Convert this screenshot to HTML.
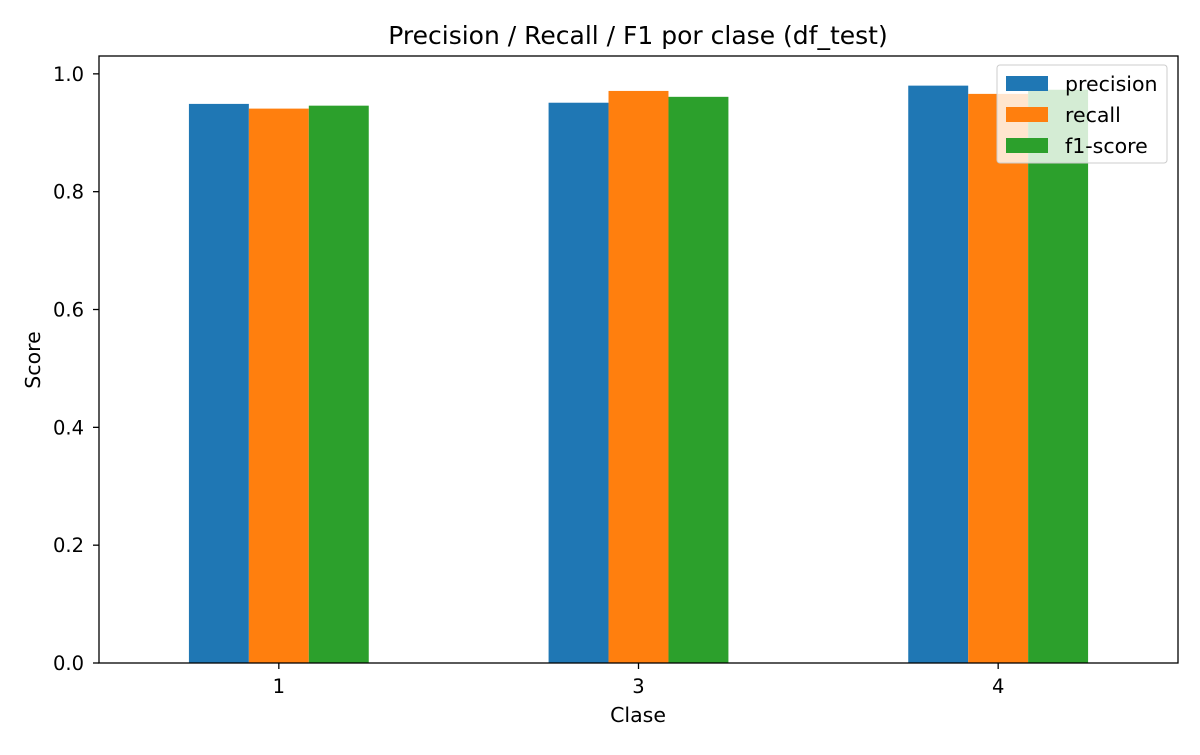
<!DOCTYPE html>
<html><head><meta charset="utf-8"><style>
body{margin:0;background:#fff;}
svg text{font-family:"DejaVu Sans","Liberation Sans",sans-serif;fill:#000;}
</style></head><body>
<svg id="chart" width="1200" height="750" xmlns="http://www.w3.org/2000/svg">
<rect width="1200" height="750" fill="#fff"/>
<text x="638" y="44" font-size="25" text-anchor="middle">Precision / Recall / F1 por clase (df_test)</text>
<g id="bars"></g>
<g id="axes"></g>
<text x="638" y="722" font-size="20.5" text-anchor="middle">Clase</text>
<text transform="translate(40,360) rotate(-90)" font-size="20.5" text-anchor="middle">Score</text>
<g id="legend"></g>
</svg>
<script>
const categories = ["1","3","4"];
const seriesNames = ["precision","recall","f1-score"];
const precision = [0.949,0.951,0.980];
const recall = [0.941,0.971,0.966];
const f1 = [0.946,0.961,0.973];
const yTicks = [0,0.2,0.4,0.6,0.8,1.0];
const yTickLabels = ["0.0","0.2","0.4","0.6","0.8","1.0"];

const colors = ["#1f77b4","#ff7f0e","#2ca02c"];
const L=99,R=1178,T=56,B=663;
const yMax=1.0303;
function y(v){return B-(v/yMax)*(B-T);}
function xc(i){return L+(i+0.5)*(R-L)/categories.length;}
const unit=(R-L)/categories.length, bw=unit*0.5/3;
const NS="http://www.w3.org/2000/svg";
function mk(tag,attrs,parent){const e=document.createElementNS(NS,tag);for(const k in attrs)e.setAttribute(k,attrs[k]);parent.appendChild(e);return e;}
const bars=document.getElementById('bars');
const series=[precision,recall,f1];
series.forEach((s,si)=>{
  s.forEach((v,i)=>{
    const x=xc(i)-1.5*bw+si*bw;
    const r=mk('rect',{x:x,y:y(v),width:bw,height:B-y(v),fill:colors[si]},bars);
    
    
  });
});
const axes=document.getElementById('axes');
const frame=mk('rect',{x:L,y:T,width:R-L,height:B-T,fill:'none',stroke:'#000','stroke-width':1.3},axes);


yTicks.forEach((t,i)=>{
  const yy=y(t);
  const ln=mk('line',{x1:L-6,x2:L,y1:yy,y2:yy,stroke:'#000','stroke-width':1.3},axes);
  
  
  const tx=mk('text',{x:L-15,y:yy+7,'font-size':19.5,'text-anchor':'end'},axes);
  tx.textContent=yTickLabels[i];
  
  
});
categories.forEach((c,i)=>{
  const xx=xc(i);
  const ln=mk('line',{x1:xx,x2:xx,y1:B,y2:B+6,stroke:'#000','stroke-width':1.3},axes);
  
  
  const tx=mk('text',{x:xx,y:B+30,'font-size':19.5,'text-anchor':'middle'},axes);
  tx.textContent=c;
  
  
});
const lg=document.getElementById('legend');
const box=mk('rect',{x:997,y:65,width:170,height:98,rx:3,fill:'#fff','fill-opacity':0.8,stroke:'#ccc','stroke-width':1},lg);


seriesNames.forEach((n,i)=>{
  const yy=76+i*31;
  const sw=mk('rect',{x:1006,y:yy,width:42,height:15,fill:colors[i]},lg);
  
  
  const tx=mk('text',{x:1065,y:yy+15,'font-size':20.5},lg);
  tx.textContent=n;
  
  
});
</script>
</body></html>
